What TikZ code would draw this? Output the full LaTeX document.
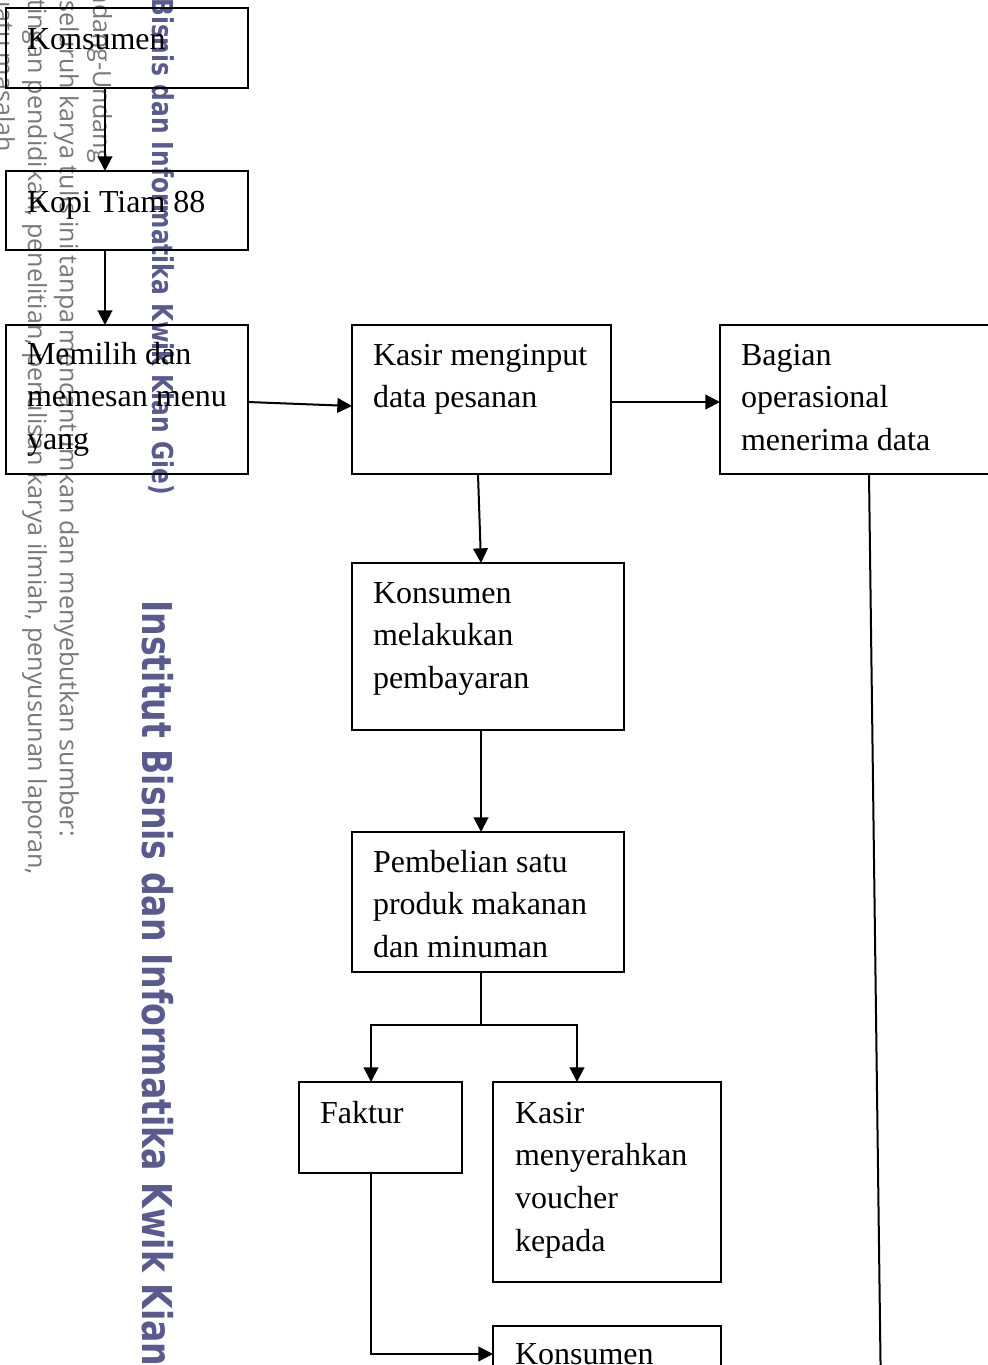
\documentclass[tikz,border=0pt]{standalone}
\usepackage{fontspec}
\setmainfont{Liberation Serif}
\newfontfamily\wmsans{Open Sans}
\newfontfamily\wmbold{DejaVu Sans}
\usetikzlibrary{arrows.meta,calc,fit}
\definecolor{wmgray}{RGB}{120,120,120}
\definecolor{wmpurple}{RGB}{90,90,140}
\newcommand{\boxlines}[1]{\parbox[t]{300pt}{\raggedright\fontsize{24}{32}\selectfont #1}}
\begin{document}
\begin{tikzpicture}[x=0.75pt,y=-0.75pt,
  box/.style={draw, line width=1.5pt, inner sep=0pt, outer sep=0pt},
  lbl/.style={anchor=base west, inner sep=0pt, outer sep=0pt},
  conn/.style={line width=1.5pt},
  arr/.style={conn, -{Triangle[length=11pt 0,width=11pt 0]}},
  wm/.style={rotate=-90, anchor=base east, inner sep=0pt, text=wmgray, font=\wmsans\fontsize{18.8}{19}\selectfont},
  wmp/.style={rotate=-90, inner sep=0pt, text=wmpurple},
]
\useasboundingbox (0,0) rectangle (988,1365);
\clip (0,0) rectangle (988,1365);
\fill[white] (0,0) rectangle (988,1365);

% watermark
\node[wm] (w1) at (-4,152) {penulisan kritik dan tinjauan suatu masalah};
\node[wm] (w2) at (28,875) {a. Pengutipan hanya untuk kepentingan pendidikan, penelitian, penulisan karya ilmiah, penyusunan laporan,};
\node[wm] (w3) at (60,837) {1. Dilarang mengutip sebagian atau seluruh karya tulis ini tanpa mencantumkan dan menyebutkan sumber:};
\node[wm] (w4) at (93,163) {Hak Cipta Dilindungi Undang-Undang};
\node[wmp, anchor=base east] (w5) at (152,495) {\scalebox{0.81}[1]{\wmbold\bfseries\fontsize{21.6}{22}\selectfont (Institut Bisnis dan Informatika Kwik Kian Gie)}};
\node[wmp, anchor=base west] (w6) at (142,600) {\scalebox{0.806}[1]{\wmbold\bfseries\fontsize{30.8}{31}\selectfont Institut Bisnis dan Informatika Kwik Kian Gie}};

% boxes
\node[box, fit={(6,8) (248,88)}] (n1) {};
\node[box, fit={(6,171) (248,250)}] (n2) {};
\node[box, fit={(6,325) (248,474)}] (n3) {};
\node[box, fit={(352,325) (611,474)}] (n4) {};
\node[box, fit={(720,325) (1010,474)}] (n5) {};
\node[box, fit={(352,563) (624,730)}] (n6) {};
\node[box, fit={(352,832) (624,972)}] (n7) {};
\node[box, fit={(299,1082) (462,1173)}] (n8) {};
\node[box, fit={(493,1082) (721,1282)}] (n9) {};
\node[box, fit={(493,1326) (721,1420)}] (n10) {};

% texts
\node[lbl] (t1) at (27,49) {\boxlines{Konsumen}};
\node[lbl] (t2) at (27,212) {\boxlines{Kopi Tiam 88}};
\node[lbl] (t3) at (27,364) {\boxlines{Memilih dan\\memesan menu\\yang}};
\node[lbl] (t4) at (373,365) {\boxlines{Kasir menginput\\data pesanan}};
\node[lbl] (t5) at (741,365) {\boxlines{Bagian\\operasional\\menerima data}};
\node[lbl] (t6) at (373,603) {\boxlines{Konsumen\\melakukan\\pembayaran}};
\node[lbl] (t7) at (373,872) {\boxlines{Pembelian satu\\produk makanan\\dan minuman}};
\node[lbl] (t8) at (320,1123) {\boxlines{Faktur}};
\node[lbl] (t9) at (515,1123) {\boxlines{Kasir\\menyerahkan\\voucher\\kepada}};
\node[lbl] (t10) at (515,1364) {\boxlines{Konsumen}};

% connectors
\coordinate (cx) at (105,0);
\draw[arr] (n1.south -| cx) -- (n2.north -| cx);
\draw[arr] (n2.south -| cx) -- (n3.north -| cx);
\draw[arr] ($(n3.east)+(0,2.5)$) -- ($(n4.west)+(0,6.5)$);
\draw[arr] ($(n4.east)+(0,2.5)$) -- ($(n5.west)+(0,2.5)$);
\draw[arr] ($(n4.south)+(-3.5,0)$) -- ($(n6.north)+(-7,0)$);
\draw[arr] ($(n6.south)+(-7,0)$) -- ($(n7.north)+(-7,0)$);
\coordinate (j) at (481,1025);
\draw[conn] ($(n7.south)+(-7,0)$) -- (j);
\draw[arr] (j) -| ($(n8.north)+(-9.5,0)$);
\draw[arr] (j) -| ($(n9.north)+(-30,0)$);
\draw[arr] ($(n8.south)+(-9.5,0)$) |- ($(n10.west)+(0,-19)$);
\coordinate (bend) at (881,1400);
\draw[conn] ($(n5.south)+(4,0)$) -- (bend);
\end{tikzpicture}
\end{document}
